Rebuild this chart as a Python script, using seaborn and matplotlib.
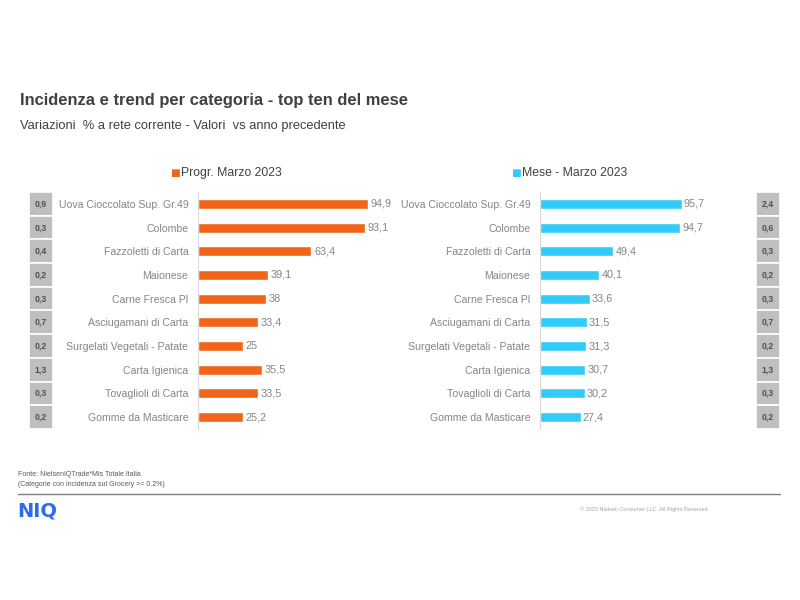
import matplotlib
matplotlib.use("Agg")
import matplotlib.pyplot as plt
import seaborn as sns
import pandas as pd

sns.set_theme(style="white")
plt.rcParams['font.family'] = ['Liberation Sans', 'DejaVu Sans']

# ---- data ----
categories_left = ["Uova Cioccolato Sup. Gr.49", "Colombe", "Fazzoletti di Carta", "Maionese",
                   "Carne Fresca Pl", "Asciugamani di Carta", "Surgelati Vegetali - Patate",
                   "Carta Igienica", "Tovaglioli di Carta", "Gomme da Masticare"]
progr_values = [94.9, 93.1, 63.4, 39.1, 38.0, 33.4, 25.0, 35.5, 33.5, 25.2]
incid_left = ["0,9", "0,3", "0,4", "0,2", "0,3", "0,7", "0,2", "1,3", "0,3", "0,2"]

categories_right = categories_left
mese_values = [95.7, 94.7, 49.4, 40.1, 33.6, 31.5, 31.3, 30.7, 30.2, 27.4]
incid_right = ["2,4", "0,6", "0,3", "0,2", "0,3", "0,7", "0,2", "1,3", "0,3", "0,2"]

legend_left = "Progr. Marzo 2023"
legend_right = "Mese - Marzo 2023"
title = "Incidenza e trend per categoria - top ten del mese"
subtitle = "Variazioni  % a rete corrente - Valori  vs anno precedente"

ORANGE = "#F26419"
CYAN = "#33CCFA"
GRAYBOX = "#BFBFBF"
LBLGRAY = "#858585"

W, H = 800, 600
fig = plt.figure(figsize=(8, 6), dpi=100)
fig.patch.set_facecolor("white")

top_px, bot_px = 192, 429
def ax_rect(x0, w):
    return [x0 / W, 1 - bot_px / H, w / W, (bot_px - top_px) / H]

def fmt(v):
    s = f"{v:.1f}".replace(".", ",")
    if s.endswith(",0"):
        s = s[:-2]
    return s

def bar_panel(rect, cats, vals, color):
    ax = fig.add_axes(rect)
    df = pd.DataFrame({"cat": cats, "val": vals})
    sns.barplot(data=df, y="cat", x="val", orient="h", color=color, width=0.42,
                ax=ax, saturation=1)
    ax.set_xlim(0, 100)
    ax.set_ylim(len(cats) - 0.5, -0.5)
    ax.set_xlabel("")
    ax.set_ylabel("")
    ax.set_xticks([])
    for s in ["top", "right", "bottom"]:
        ax.spines[s].set_visible(False)
    ax.spines["left"].set_color("#D9D9D9")
    ax.spines["left"].set_linewidth(0.8)
    ax.tick_params(axis="y", length=0, pad=7, labelsize=7.6, labelcolor=LBLGRAY)
    ax.patch.set_alpha(0)
    for i, v in enumerate(vals):
        ax.text(v + 1.5, i, fmt(v), va="center", ha="left", fontsize=7.8, color=LBLGRAY)
    return ax

def box_panel(rect, labels):
    ax = fig.add_axes(rect)
    ax.barh(range(len(labels)), [1] * len(labels), height=1.0, color=GRAYBOX,
            edgecolor="white", linewidth=1.2)
    ax.set_xlim(0, 1)
    ax.set_ylim(len(labels) - 0.5, -0.5)
    ax.axis("off")
    for i, t in enumerate(labels):
        ax.text(0.5, i, t, ha="center", va="center", fontsize=6.2,
                fontweight="bold", color="#505050")
    return ax

bar_panel(ax_rect(198, 179), categories_left, progr_values, ORANGE)
bar_panel(ax_rect(540, 148), categories_right, mese_values, CYAN)
box_panel(ax_rect(29, 24), incid_left)
box_panel(ax_rect(756, 24), incid_right)

# legends
def legend_at(xc, y, color, text):
    fig.text(xc / W, 1 - y / H, "\u25A0", color=color, fontsize=7.5, ha="right", va="center",
             family="DejaVu Sans")
    fig.text((xc + 1) / W, 1 - y / H, text, color="#404040", fontsize=8.8, ha="left", va="center")

legend_at(180, 173, ORANGE, legend_left)
legend_at(521, 173, CYAN, legend_right)

# titles
fig.text(20 / W, 1 - 101 / H, title, fontsize=11.9, fontweight="bold", color="#404040",
         ha="left", va="center")
fig.text(20 / W, 1 - 126 / H, subtitle, fontsize=9.3, color="#404040", ha="left", va="center")

# footer
fig.text(18 / W, 1 - 474 / H, "Fonte: NielsenIQTrade*Mis Totale Italia", fontsize=5,
         color="#595959", ha="left", va="center")
fig.text(18 / W, 1 - 484 / H, "(Categorie con incidenza sul Grocery >= 0.2%)", fontsize=5,
         color="#595959", ha="left", va="center")
fig.add_artist(plt.Line2D([18 / W, 780 / W], [1 - 494 / H, 1 - 494 / H], color="#7F7F7F",
                          linewidth=1))
fig.text(17 / W, 1 - 511 / H, "NIQ", fontsize=14, fontweight="bold", color="#2D6BF0",
         ha="left", va="center", family="DejaVu Sans")
fig.text(580 / W, 1 - 509 / H, "\u00A9 2023 Nielsen Consumer LLC. All Rights Reserved.",
         fontsize=4, color="#A6A6A6", ha="left", va="center")

fig.savefig("out.png", dpi=100, facecolor="white")
